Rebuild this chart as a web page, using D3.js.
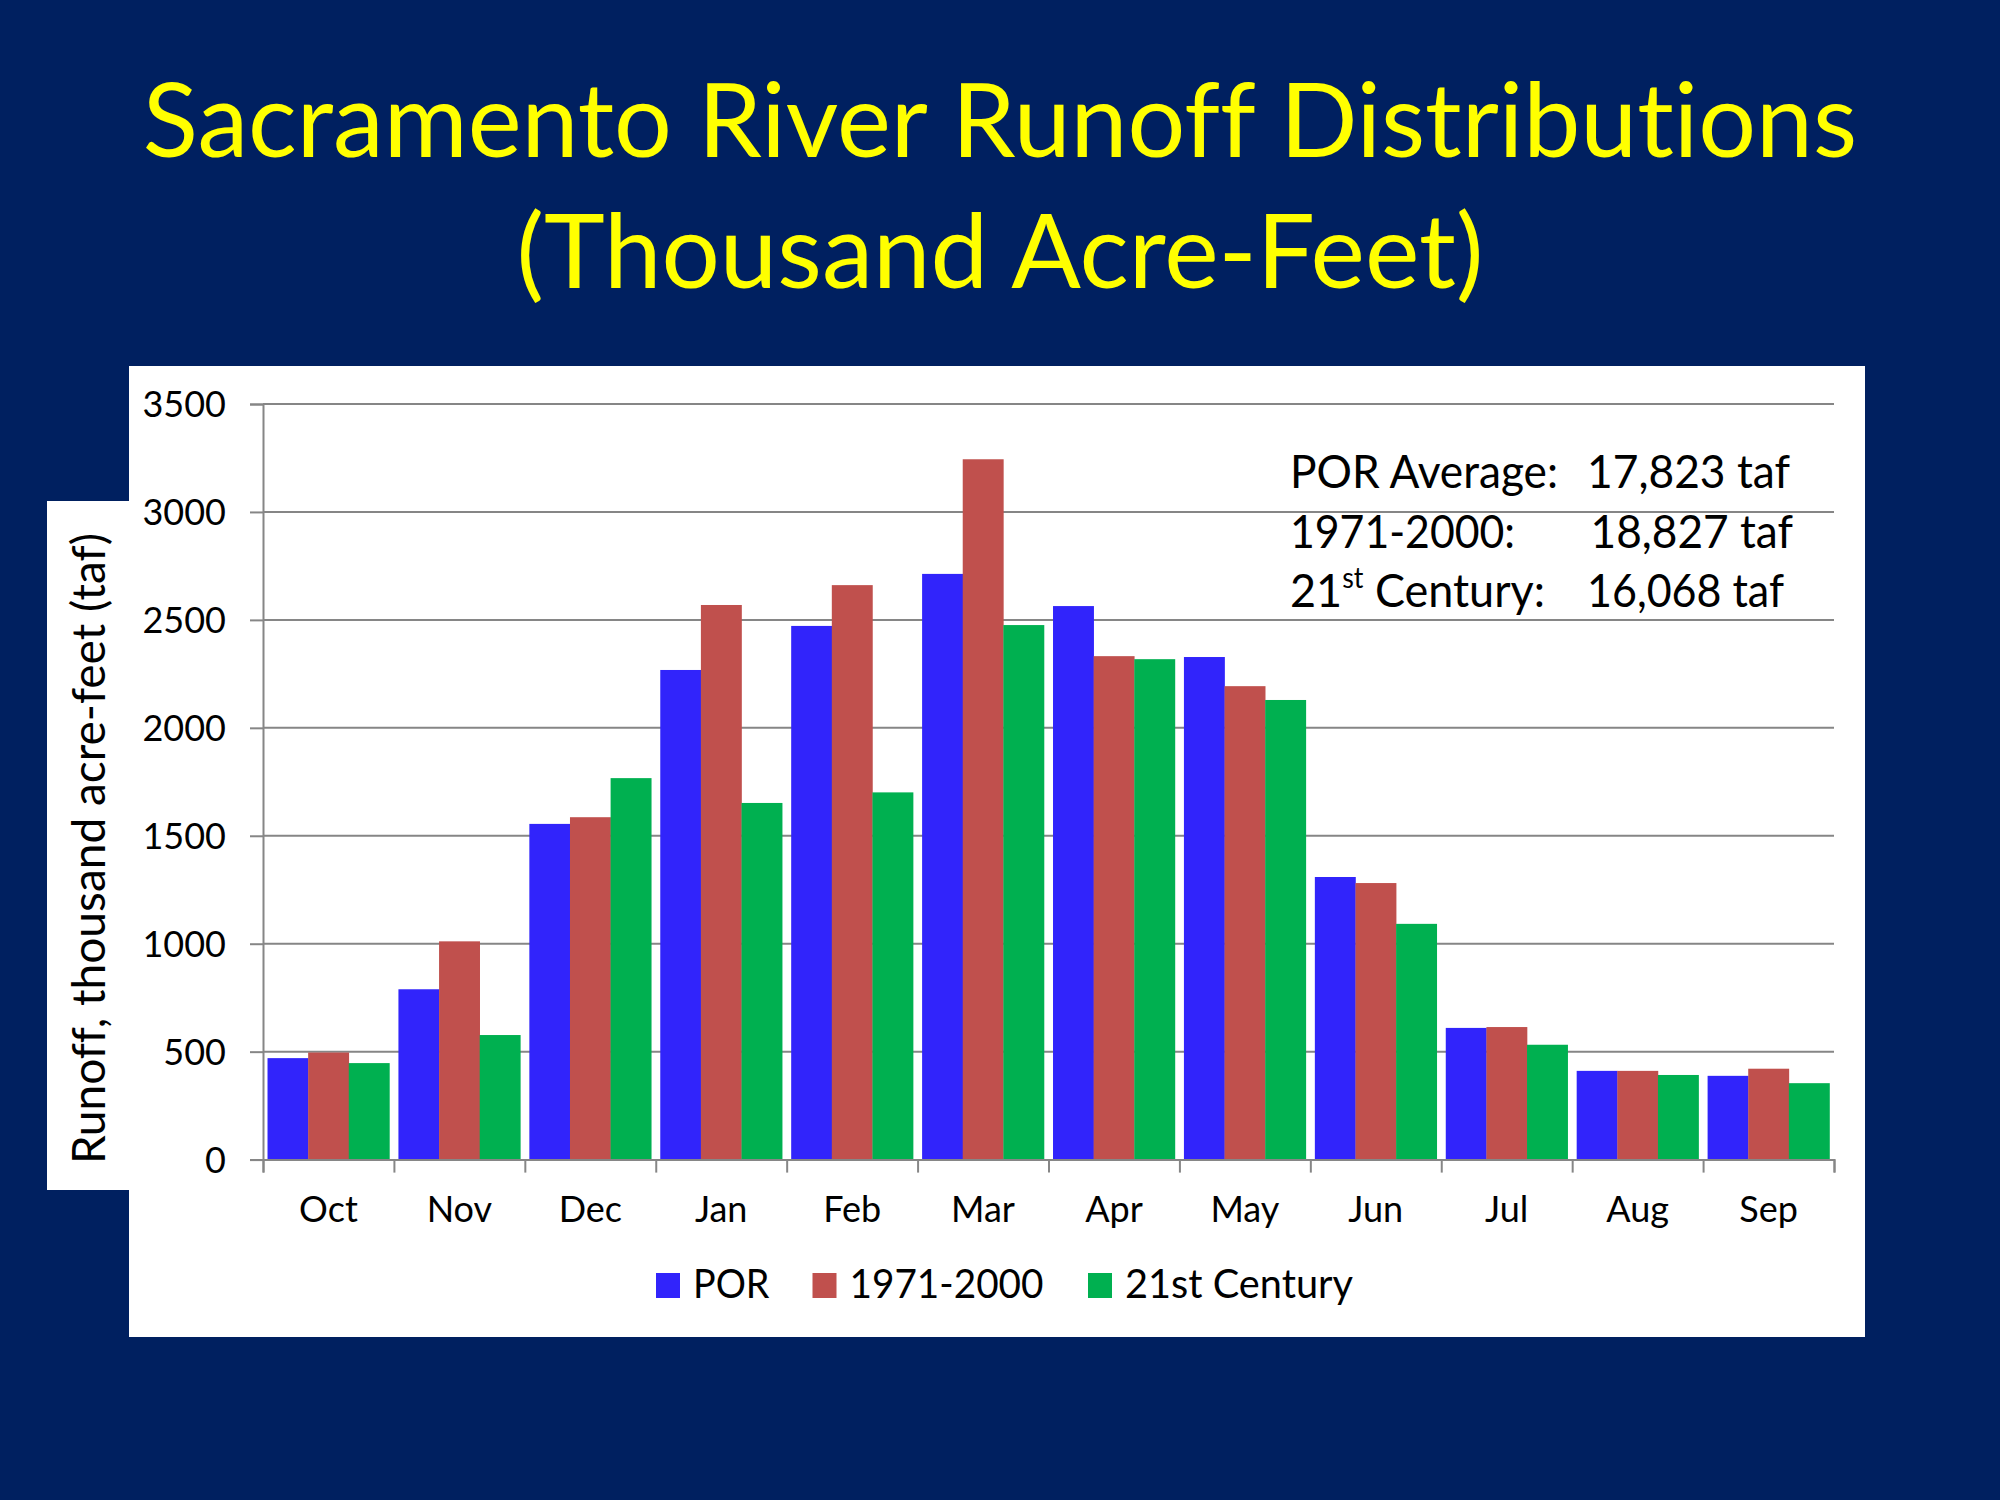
<!DOCTYPE html>
<html><head><meta charset="utf-8">
<script src="https://cdn.jsdelivr.net/npm/d3@7"></script>
<style>html,body{margin:0;padding:0;background:#002060;} svg{display:block}
svg text{font-variant-ligatures:none;font-feature-settings:"liga" 0,"clig" 0,"dlig" 0;}</style>
</head><body>
<script>
// ---- data ----
const months = ["Oct","Nov","Dec","Jan","Feb","Mar","Apr","May","Jun","Jul","Aug","Sep"];
const porValues = [470,789,1555,2268,2472,2713,2564,2328,1309,610,411,388];
const values1971to2000 = [496,1011,1586,2569,2661,3244,2332,2193,1281,614,411,421];
const values21stCentury = [447,577,1767,1652,1701,2476,2318,2129,1092,532,392,354];
const seriesNames = ["POR","1971-2000","21st Century"];
const seriesColors = ["#3124FB","#C0504D","#00B050"];
const yTicks = [0,500,1000,1500,2000,2500,3000,3500];
const titleLines = ["Sacramento River Runoff Distributions","(Thousand Acre-Feet)"];
const yAxisTitle = "Runoff, thousand acre-feet (taf)";
const summaryLabels = ["POR Average:","1971-2000:","21st Century:"];
const summaryValues = ["17,823 taf","18,827 taf","16,068 taf"];

// ---- layout ----
const W = 2000, H = 1500;
const FONT = "Lato, 'Open Sans', sans-serif";
const plot = {x0: 263, x1: 1834, y0: 1159.6, y1: 404};

const svg = d3.select("body").append("svg").attr("width", W).attr("height", H);
svg.append("rect").attr("width", W).attr("height", H).attr("fill", "#002060");

function fit(sel, target) {
  sel.each(function () {
    const w = this.getComputedTextLength();
    if (Math.abs(w - target) / target > 0.008) {
      d3.select(this).attr("textLength", target).attr("lengthAdjust", "spacingAndGlyphs");
    }
  });
}

// title
const titleBase = [157, 288], titleWidth = [1719, 967];
titleLines.forEach((t, i) => {
  svg.append("text").attr("x", 1000).attr("y", titleBase[i])
    .attr("text-anchor", "middle").attr("fill", "#FFFF00")
    .attr("font-family", FONT).attr("font-size", 102).text(t)
    .call(fit, titleWidth[i]);
});

// panels
svg.append("rect").attr("x", 129).attr("y", 366).attr("width", 1865 - 129).attr("height", 1337 - 366).attr("fill", "#fff");
svg.append("rect").attr("x", 47).attr("y", 501).attr("width", 129 - 47 + 1).attr("height", 1190 - 501).attr("fill", "#fff");

// scales
const x = d3.scaleBand().domain(months).range([plot.x0, plot.x1]).paddingInner(0.069).paddingOuter(0.0345);
const xs = d3.scaleBand().domain(seriesNames).range([0, x.bandwidth()]);
const xb = d3.scaleLinear().domain([0, months.length]).range([plot.x0, plot.x1]);
const y = d3.scaleLinear().domain([0, 3500]).range([plot.y0, plot.y1]);

// gridlines
svg.append("g").selectAll("line").data(yTicks.slice(1)).join("line")
  .attr("x1", plot.x0).attr("x2", plot.x1)
  .attr("y1", d => y(d)).attr("y2", d => y(d))
  .attr("stroke", "#868686").attr("stroke-width", 2);

// bars
const series = [porValues, values1971to2000, values21stCentury];
const rows = [];
months.forEach((m, i) => series.forEach((s, j) => rows.push({m, name: seriesNames[j], v: s[i], c: seriesColors[j]})));
svg.append("g").selectAll("rect").data(rows).join("rect")
  .attr("x", d => x(d.m) + xs(d.name))
  .attr("width", xs.bandwidth() + 0.3)
  .attr("y", d => y(d.v))
  .attr("height", d => y(0) - y(d.v))
  .attr("fill", d => d.c);

// y axis
const yAxis = svg.append("g").attr("transform", `translate(${plot.x0},0)`)
  .call(d3.axisLeft(y).tickValues(yTicks).tickSize(13).tickPadding(24).tickFormat(d3.format("d")));
yAxis.select(".domain").attr("stroke", "#868686").attr("stroke-width", 2);
yAxis.selectAll(".tick line").attr("stroke", "#868686").attr("stroke-width", 2);
yAxis.selectAll(".tick text").attr("font-family", FONT).attr("font-size", 36).attr("fill", "#000").attr("dy", "0.36em");

// x axis (ticks at category boundaries)
const xAxis = svg.append("g").attr("transform", `translate(0,${plot.y0})`)
  .call(d3.axisBottom(xb).tickValues(d3.range(months.length + 1)).tickSize(13).tickFormat(""));
xAxis.select(".domain").attr("stroke", "#868686").attr("stroke-width", 2);
xAxis.selectAll(".tick line").attr("stroke", "#868686").attr("stroke-width", 2);

svg.append("g").selectAll("text").data(months).join("text")
  .attr("x", d => x(d) + x.bandwidth() / 2).attr("y", 1222)
  .attr("text-anchor", "middle").attr("font-family", FONT).attr("font-size", 36).attr("fill", "#000")
  .text(d => d);

// y axis title
svg.append("text").attr("transform", "translate(105,848.5) rotate(-90)")
  .attr("text-anchor", "middle").attr("font-family", FONT).attr("font-size", 46).attr("fill", "#000")
  .text(yAxisTitle).call(fit, 635);

// legend
const legX = [656, 812.5, 1088], legW = [76.5, 194, 228];
const leg = svg.append("g").selectAll("g").data(seriesNames).join("g")
  .attr("transform", (d, i) => `translate(${legX[i]},0)`);
leg.append("rect").attr("x", 0).attr("y", 1273).attr("width", 24).attr("height", 25).attr("fill", (d, i) => seriesColors[i]);
leg.append("text").attr("x", 37).attr("y", 1298).attr("font-family", FONT).attr("font-size", 41).attr("fill", "#000")
  .text(d => d).each(function (d, i) { fit(d3.select(this), legW[i]); });

// summary annotation
const sumBase = [488, 548, 607];
const sumValX = [1587, 1590.5, 1587];
const sumValW = [203, 202.5, 197];
const sumLabW = [268, 225, 255];
summaryLabels.forEach((t, i) => {
  const tx = svg.append("text").attr("x", 1290).attr("y", sumBase[i])
    .attr("font-family", FONT).attr("font-size", 47).attr("fill", "#000");
  const m = t.match(/^(\d+)(st)(.*)$/);
  if (m) {
    tx.append("tspan").text(m[1]);
    tx.append("tspan").attr("font-size", 28).attr("dy", -19).text(m[2]);
    tx.append("tspan").attr("dy", 19).text(m[3]);
  } else {
    tx.text(t);
  }
  fit(tx, sumLabW[i]);
  svg.append("text").attr("x", sumValX[i]).attr("y", sumBase[i])
    .attr("font-family", FONT).attr("font-size", 47).attr("fill", "#000")
    .text(summaryValues[i]).call(fit, sumValW[i]);
});
</script>
</body></html>
